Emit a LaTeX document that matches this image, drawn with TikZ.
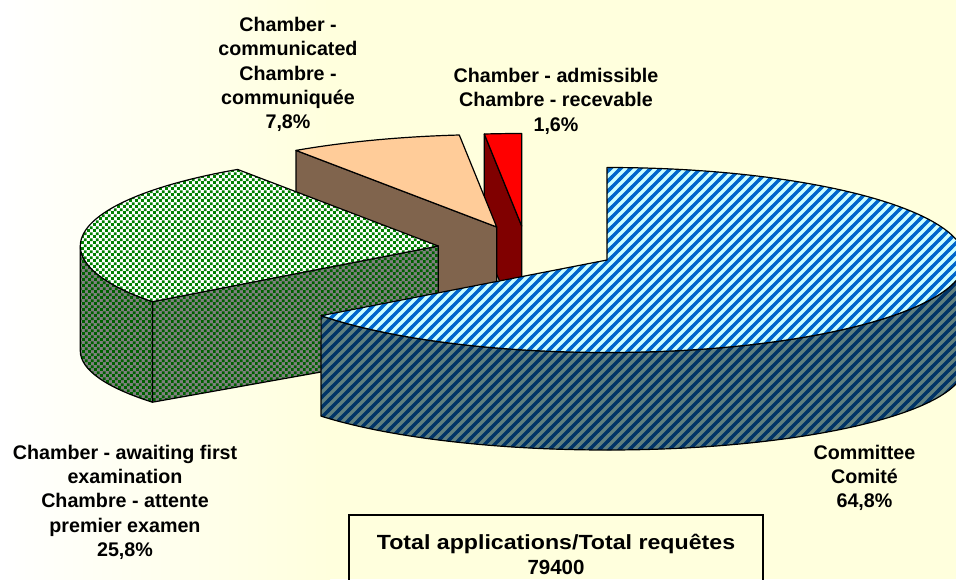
\documentclass[tikz,border=0pt]{standalone}
\usepackage{fontspec}
\setmainfont{Liberation Sans}
\usetikzlibrary{patterns}
\definecolor{bgy}{RGB}{255,255,221}
\definecolor{btop}{RGB}{204,255,255}
\definecolor{bstripe}{RGB}{0,102,204}
\definecolor{bside}{RGB}{96,128,128}
\definecolor{bsidestripe}{RGB}{0,51,102}
\definecolor{gdot}{RGB}{0,128,0}
\definecolor{gside}{RGB}{128,128,128}
\definecolor{gsidedot}{RGB}{0,96,0}
\definecolor{peach}{RGB}{255,204,153}
\definecolor{brownface}{RGB}{128,100,77}
\definecolor{redtop}{RGB}{255,0,0}
\definecolor{redface}{RGB}{128,0,0}
\pgfdeclarepatternformonly{piestripes}{\pgfqpoint{-3pt}{-3pt}}{\pgfqpoint{13pt}{13pt}}{\pgfqpoint{10pt}{10pt}}{%
  \pgfsetlinewidth{3.4pt}%
  \pgfpathmoveto{\pgfqpoint{-3pt}{-3pt}}%
  \pgfpathlineto{\pgfqpoint{13pt}{13pt}}%
  \pgfusepath{stroke}}
\pgfdeclarepatternformonly{piedots}{\pgfqpoint{0pt}{0pt}}{\pgfqpoint{6.4pt}{6.4pt}}{\pgfqpoint{6.4pt}{6.4pt}}{%
  \pgfpathrectangle{\pgfqpoint{0pt}{0pt}}{\pgfqpoint{3pt}{3pt}}%
  \pgfpathrectangle{\pgfqpoint{3.2pt}{3.2pt}}{\pgfqpoint{3pt}{3pt}}%
  \pgfusepath{fill}}
\tikzset{
  pieedge/.style={draw=black, line width=1.2pt, line join=round},
  bluetop/.style={pieedge, preaction={fill=btop}, pattern=piestripes, pattern color=bstripe},
  blueside/.style={pieedge, preaction={fill=bside}, pattern=piestripes, pattern color=bsidestripe},
  greentop/.style={pieedge, preaction={fill=white}, pattern=piedots, pattern color=gdot},
  greenside/.style={pieedge, preaction={fill=gside}, pattern=piedots, pattern color=gsidedot},
  peachtop/.style={pieedge, fill=peach},
  brownside/.style={pieedge, fill=brownface},
  redtopst/.style={pieedge, fill=redtop},
  redside/.style={pieedge, fill=redface},
  ell/.style={x radius=358, y radius=92.5},
  ellb/.style={x radius=358, y radius=85},
  lbl/.style={font=\bfseries\fontsize{19.7}{24.2}\selectfont, align=center, inner sep=0pt, anchor=north}
}
\begin{document}
\begin{tikzpicture}[x=1pt,y=-1pt]
\useasboundingbox (0,0) rectangle (956,579);
\clip (0,0) rectangle (956,579);
\fill[bgy] (0,0) rectangle (956,579);
\shade[left color=white, right color=bgy] (0,0) rectangle (330,579);
% centres and rim points
\coordinate (B) at (607,260);
\coordinate (Btop) at (607,167.5);
\coordinate (Bl) at (321.1,315.7);
\coordinate (Brb) at (965,365);
\coordinate (G) at (438.3,246);
\coordinate (Gl) at (152.4,301.7);
\coordinate (Glb) at (152.4,402.2);
\coordinate (G180b) at (80.3,351);
\coordinate (Gb) at (438.3,351);
\coordinate (P) at (496.7,227);
\coordinate (P124) at (296,150.4);
\coordinate (P124b) at (296,261.6);
\coordinate (Pb) at (496.7,332);
\coordinate (R) at (521.7,226);
\coordinate (R96) at (484.3,134);
\coordinate (R96b) at (484.3,246.5);
\coordinate (Rb) at (521.7,331);
% admissible slice
\path[redside] (R) -- (R96) -- (R96b) -- (Rb) -- cycle;
\path[redtopst] (R) -- (R96) arc[start angle=-96, end angle=-90, ell] -- cycle;
% communicated slice
\path[brownside] (P) -- (P124) -- (P124b) -- (Pb) -- cycle;
\path[peachtop] (P) -- (P124) arc[start angle=-124.1, end angle=-96, ell] -- cycle;
% awaiting first examination slice
\path[greenside] (G) -- (Gl) -- (Glb) -- (Gb) -- cycle;
\path[greenside] (Gl) arc[start angle=-217, end angle=-180, ell] -- (G180b) arc[start angle=-180, end angle=-217, ellb] -- cycle;
\path[greentop] (G) -- (Gl) arc[start angle=-217, end angle=-124.1, ell] -- cycle;
% committee slice
\path[blueside] (Bl) arc[start angle=143, end angle=0, ell] -- (Brb) arc[start angle=0, end angle=143, ellb] -- cycle;
\path[bluetop] (B) -- (Btop) arc[start angle=-90, end angle=143, ell] -- cycle;
% labels
\node[lbl] (lcomm) at (288,17.3) {Chamber -\\communicated\\Chambre -\\communiquée\\7,8\%};
\node[lbl] (ladm) at (556,68.3) {Chamber - admissible\\Chambre - recevable\\1,6\%};
\node[lbl] (lwait) at (125,445) {Chamber - awaiting first\\examination\\Chambre - attente\\premier examen\\25,8\%};
\node[lbl] (lcom) at (864.5,444.6) {Committee\\Comité\\64,8\%};
\node[draw=black, line width=1.2pt, minimum width=414pt, minimum height=78pt, inner sep=0pt, align=center,
  font=\bfseries\fontsize{20.5}{25}\selectfont] (total) at (556,554)
  {\scalebox{1.13}[1]{Total applications/Total requêtes}\\79400};
\end{tikzpicture}
\end{document}
